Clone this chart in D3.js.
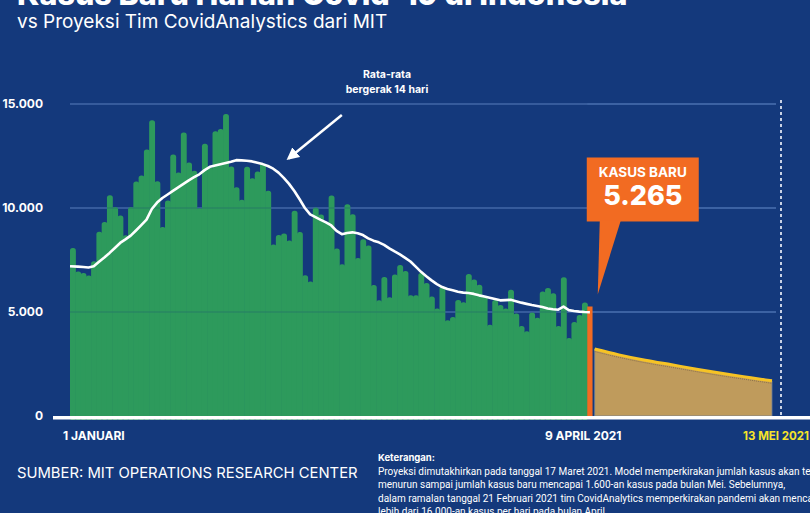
<!DOCTYPE html>
<html>
<head>
<meta charset="utf-8">
<script src="https://cdn.jsdelivr.net/npm/d3@7"></script>
<style>
  body { margin: 0; background: #14397c; }
  svg { display: block; font-family: Inter, "Open Sans", sans-serif; }
</style>
</head>
<body>
<div id="chart"></div>
<script>
// daily new cases, 1 Jan - 8 Apr 2021
const dailyCases = [
  8072, 6950, 6877, 6753, 7445, 8854, 9321, 10617, 10046, 9640,
  8692, 10047, 11278, 11557, 12818, 14224, 11287, 9086, 10365, 12568,
  11703, 13632, 12191, 11788, 9994, 13094, 11948, 13695, 13802, 14518,
  12001,
  10994, 10400, 11984, 11434, 11749, 12156, 10827, 8242, 8700, 8776,
  8435, 9869, 8844, 6765, 6462, 10029, 9687, 9300, 10600, 8054,
  7300, 10180, 9700, 7600, 8500, 8200, 6300, 5560,
  6680, 5712, 6808, 7264, 6971, 5800, 5800, 6880, 6400, 5750,
  5170, 6230, 4600, 4760, 5580, 5470, 6830, 6560, 6310, 5740,
  4390, 5580, 5340, 5170, 6070, 4930, 4330, 4070, 4980, 4720,
  5990,
  6150, 5900, 4330, 6670, 3750, 4520, 4850, 5460
];
const latestCases = 5265; // 9 April 2021

// 14-day moving average, 1 Jan - 9 Apr
const movingAvg = [
  7200, 7180, 7160, 7140, 7200, 7420, 7620, 7840, 8080, 8320,
  8490, 8670, 8920, 9180, 9440, 9950, 10260, 10480, 10650, 10820,
  10990, 11160, 11330, 11480, 11620, 11820, 11980, 12040, 12100, 12160,
  12220, 12300, 12290, 12270, 12240, 12180, 12110, 12020, 11890, 11700,
  11450, 11160, 10820, 10420, 10000, 9690, 9560, 9430, 9310, 9160,
  8900, 8740, 8800, 8830, 8790, 8700, 8540, 8430, 8350, 8230,
  8060, 7910, 7770, 7600, 7430, 7180, 6930, 6720, 6520, 6340,
  6200, 6110, 6040, 5970, 5930, 5915, 5870, 5800, 5740, 5680,
  5620, 5560, 5570, 5585, 5520, 5450, 5390, 5335, 5290, 5240,
  5170, 5130, 5110, 5260, 5090, 5050, 5020, 5000, 4990
];

// MIT CovidAnalytics projection, 10 Apr - 13 Mei (day index from 1 Jan)
const projDays = [99.4, 104, 109, 114, 119, 124, 129, 133];
const projCases = [3220, 2940, 2680, 2460, 2240, 2030, 1840, 1690];

const yTicks = [0, 5000, 10000, 15000];
const xLabels = ["1 JANUARI", "9 APRIL 2021", "13 MEI 2021"];
const noteLines = [
  "Proyeksi dimutakhirkan pada tanggal 17 Maret 2021. Model memperkirakan jumlah kasus akan terus",
  "menurun sampai jumlah kasus baru mencapai 1.600-an kasus pada bulan Mei. Sebelumnya,",
  "dalam ramalan tanggal 21 Februari 2021 tim CovidAnalytics memperkirakan pandemi akan mencapai",
  "lebih dari 16.000-an kasus per hari pada bulan April."
];

const W = 810, H = 513;
const bg = "#14397c";
const green = "#2d9a5c";
const orange = "#f26b22";

const idLocale = d3.formatLocale({ decimal: ",", thousands: ".", grouping: [3], currency: ["Rp", ""] });
const fmt = idLocale.format(",d");

const svg = d3.select("#chart").append("svg")
  .attr("width", W)
  .attr("height", H);

svg.append("rect").attr("width", W).attr("height", H).attr("fill", bg);

const x = d3.scaleLinear().domain([0, 133]).range([70, 772]);
const y = d3.scaleLinear().domain([0, 15000]).range([416, 104]);

// title (cut off at the top in the original)
svg.append("text")
  .attr("x", 17).attr("y", 5)
  .attr("fill", "#fff")
  .attr("font-size", 30.5).attr("font-weight", 800)
  .text("Kasus Baru Harian Covid-19 di Indonesia");

svg.append("text")
  .attr("x", 17).attr("y", 28)
  .attr("fill", "#fff")
  .attr("font-size", 19)
  .text("vs Proyeksi Tim CovidAnalystics dari MIT");

// gridlines
svg.append("g").selectAll("line")
  .data(yTicks.filter(d => d > 0))
  .join("line")
  .attr("x1", 70).attr("x2", 776)
  .attr("y1", d => y(d)).attr("y2", d => y(d))
  .attr("stroke", "#4a70b0")
  .attr("stroke-width", 1.5);

// y axis labels
const yAxis = svg.append("g")
  .attr("transform", "translate(70,0)")
  .call(d3.axisLeft(y).tickValues(yTicks).tickSize(0).tickPadding(27).tickFormat(fmt));
yAxis.select(".domain").remove();
yAxis.selectAll("text")
  .attr("fill", "#fff")
  .attr("font-size", 12)
  .attr("font-weight", 700)
  .attr("font-family", "Inter, sans-serif");

// daily bars
svg.append("g").selectAll("rect")
  .data(dailyCases)
  .join("rect")
  .attr("x", (d, i) => x(i))
  .attr("width", (d, i) => x(i + 1) - x(i) + 0.6)
  .attr("y", d => y(d))
  .attr("height", d => y(0) - y(d) + 4)
  .attr("rx", 2.6)
  .attr("fill", green);

// faint gridlines showing through the bars
svg.append("g").selectAll("line")
  .data(yTicks.filter(d => d > 0))
  .join("line")
  .attr("x1", 70).attr("x2", x(dailyCases.length))
  .attr("y1", d => y(d)).attr("y2", d => y(d))
  .attr("stroke", bg)
  .attr("stroke-opacity", 0.3)
  .attr("stroke-width", 1.2);

// latest day in orange
const lastIdx = dailyCases.length;
svg.append("rect")
  .attr("x", x(lastIdx))
  .attr("width", x(lastIdx + 1) - x(lastIdx))
  .attr("y", y(latestCases))
  .attr("height", y(0) - y(latestCases))
  .attr("fill", orange);

// projection
const projData = projDays.map((d, i) => ({ day: d, v: projCases[i] }));
svg.append("path")
  .datum(projData)
  .attr("d", d3.area().x(d => x(d.day)).y0(y(0)).y1(d => y(d.v)).curve(d3.curveMonotoneX))
  .attr("fill", "#bf9b5c")
  .attr("stroke", "#6e7f98")
  .attr("stroke-width", 0.8);
svg.append("path")
  .datum(projData)
  .attr("d", d3.line().x(d => x(d.day)).y(d => y(d.v) + 2.5).curve(d3.curveMonotoneX))
  .attr("fill", "none")
  .attr("stroke", "#8c7049")
  .attr("stroke-width", 1)
  .attr("stroke-dasharray", "1,1");
svg.append("path")
  .datum(projData)
  .attr("d", d3.line().x(d => x(d.day)).y(d => y(d.v)).curve(d3.curveMonotoneX))
  .attr("fill", "none")
  .attr("stroke", "#f6c325")
  .attr("stroke-width", 3);

// dotted marker after projection end
svg.append("line")
  .attr("x1", x(133) + 9).attr("x2", x(133) + 9)
  .attr("y1", y(15000) - 4).attr("y2", y(0))
  .attr("stroke", "#c9d2e4")
  .attr("stroke-width", 2)
  .attr("stroke-dasharray", "3,3");

// moving average line
svg.append("path")
  .datum(movingAvg)
  .attr("d", d3.line()
    .x((d, i) => i === 0 ? x(0) : x(i + 0.5))
    .y(d => y(d)))
  .attr("fill", "none")
  .attr("stroke", "#fff")
  .attr("stroke-width", 2.6)
  .attr("stroke-linejoin", "round");

// baseline
svg.append("rect")
  .attr("x", 53).attr("y", y(0))
  .attr("width", W - 53).attr("height", 3.5)
  .attr("fill", "#fff");

// annotation for the moving average
const ann = svg.append("g");
ann.append("text")
  .attr("x", 387).attr("y", 78)
  .attr("text-anchor", "middle")
  .attr("fill", "#fff").attr("font-size", 10.5).attr("font-weight", 700)
  .text("Rata-rata");
ann.append("text")
  .attr("x", 387).attr("y", 93)
  .attr("text-anchor", "middle")
  .attr("fill", "#fff").attr("font-size", 10.5).attr("font-weight", 700)
  .text("bergerak 14 hari");

svg.append("defs").append("marker")
  .attr("id", "arrow")
  .attr("viewBox", "0 0 10 10")
  .attr("refX", 8).attr("refY", 5)
  .attr("markerWidth", 5).attr("markerHeight", 5)
  .attr("orient", "auto")
  .append("path")
  .attr("d", "M0,0 L10,5 L0,10 z")
  .attr("fill", "#fff");

ann.append("line")
  .attr("x1", x(51.5)).attr("y1", y(14470))
  .attr("x2", x(41.4)).attr("y2", y(12380))
  .attr("stroke", "#fff")
  .attr("stroke-width", 2.5)
  .attr("marker-end", "url(#arrow)");

// callout for the latest value
const barTop = y(latestCases);
const bx = x(lastIdx) - 0.5;
const callout = svg.append("g");
callout.append("rect")
  .attr("x", bx).attr("y", barTop - 149)
  .attr("width", 112).attr("height", 64)
  .attr("fill", orange);
callout.append("path")
  .attr("d", `M${bx + 13},${barTop - 86} L${bx + 34},${barTop - 86} L${bx + 11},${barTop - 12} Z`)
  .attr("fill", orange);
callout.append("text")
  .attr("x", bx + 56).attr("y", barTop - 129)
  .attr("text-anchor", "middle")
  .attr("fill", "#fff").attr("font-size", 13.5).attr("font-weight", 700)
  .text("KASUS BARU");
callout.append("text")
  .attr("x", bx + 56).attr("y", barTop - 101)
  .attr("text-anchor", "middle")
  .attr("fill", "#fff").attr("font-size", 27).attr("font-weight", 800)
  .text(fmt(latestCases));

// x labels
svg.append("text")
  .attr("x", x(0) - 7).attr("y", 440)
  .attr("fill", "#fff").attr("font-size", 12).attr("font-weight", 700)
  .text(xLabels[0]);
svg.append("text")
  .attr("x", x(lastIdx + 1) + 29).attr("y", 440)
  .attr("text-anchor", "end")
  .attr("fill", "#fff").attr("font-size", 12).attr("font-weight", 700)
  .text(xLabels[1]);
svg.append("text")
  .attr("x", 809).attr("y", 440)
  .attr("text-anchor", "end")
  .attr("fill", "#f5e32a").attr("font-size", 11.5).attr("font-weight", 700)
  .text(xLabels[2]);

// source
svg.append("text")
  .attr("x", 17).attr("y", 478)
  .attr("fill", "#fff").attr("font-size", 14.8)
  .text("SUMBER: MIT OPERATIONS RESEARCH CENTER");

// notes
svg.append("text")
  .attr("x", 378).attr("y", 461)
  .attr("fill", "#fff").attr("font-size", 9.5).attr("font-weight", 700)
  .text("Keterangan:");
svg.append("g").selectAll("text")
  .data(noteLines)
  .join("text")
  .attr("x", 378)
  .attr("y", (d, i) => 474.5 + i * 13.5)
  .attr("fill", "#fff")
  .attr("font-size", 10)
  .attr("font-family", "Roboto, sans-serif")
  .text(d => d);
</script>
</body>
</html>
